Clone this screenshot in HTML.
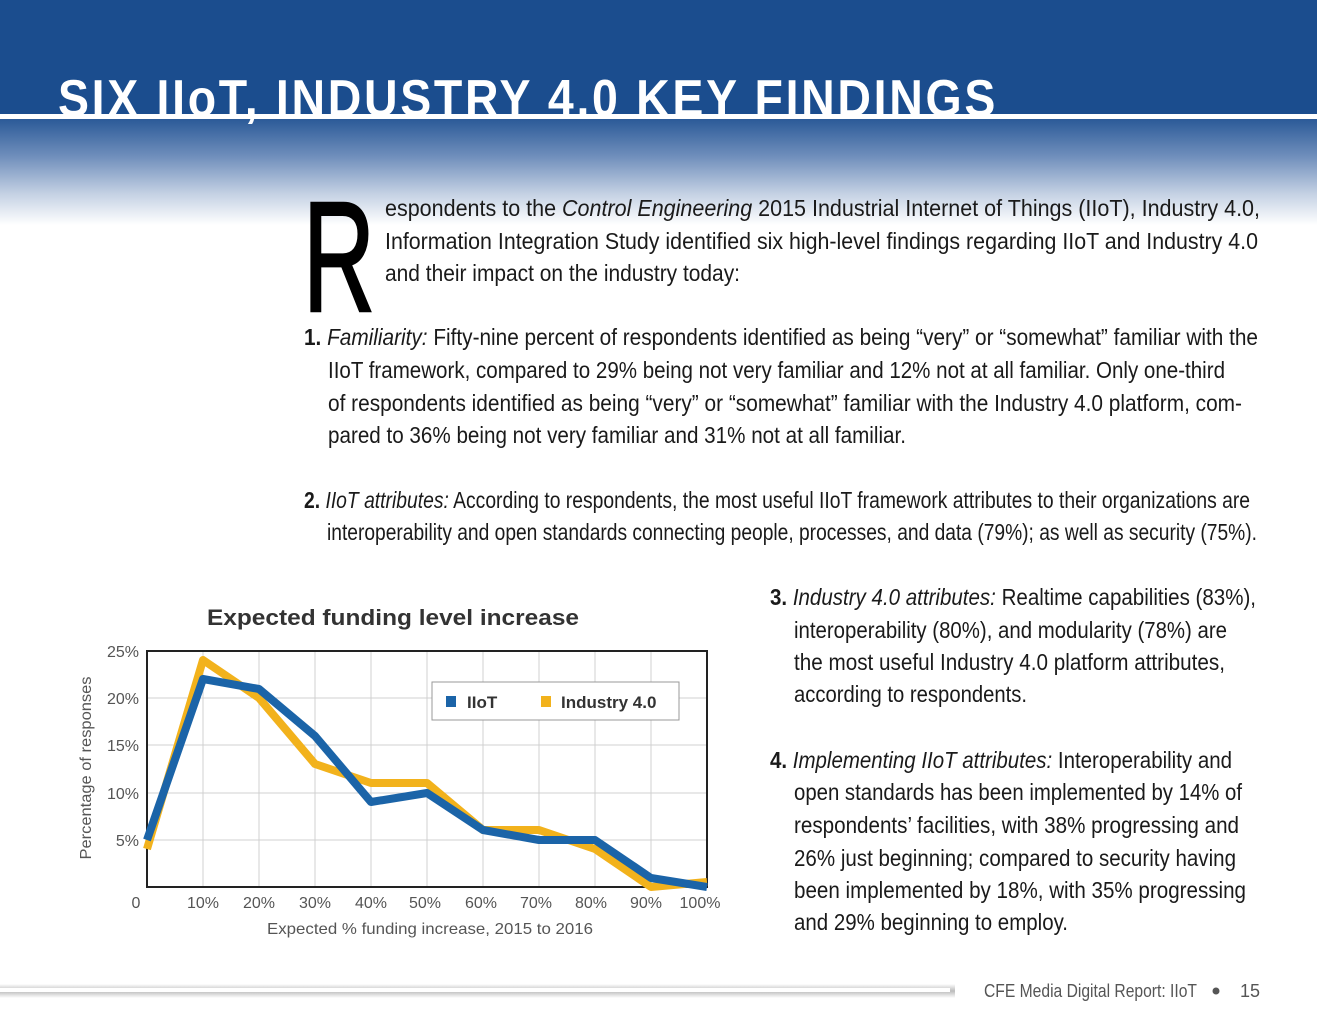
<!DOCTYPE html>
<html><head><meta charset="utf-8"><style>html,body{margin:0;padding:0;background:#fff}svg{display:block}</style></head><body>
<svg width="1317" height="1024" viewBox="0 0 1317 1024" xmlns="http://www.w3.org/2000/svg" font-family="Liberation Sans, sans-serif">
<defs>
<linearGradient id="hg" x1="0" y1="0" x2="0" y2="1">
<stop offset="0" stop-color="#2b5a98"/><stop offset="0.35" stop-color="#6f8ebb"/><stop offset="0.7" stop-color="#c3d0e3"/><stop offset="1" stop-color="#ffffff"/>
</linearGradient>
<linearGradient id="fg" x1="0" y1="0" x2="0" y2="1">
<stop offset="0" stop-color="#fff"/><stop offset="0.5" stop-color="#bbb"/><stop offset="1" stop-color="#fff"/>
</linearGradient>
</defs>
<rect x="0" y="0" width="1317" height="114" fill="#1b4d8e"/>
<rect x="0" y="114" width="1317" height="5" fill="#fff"/>
<rect x="0" y="119" width="1317" height="106" fill="url(#hg)"/>
<text x="58" y="116" font-size="52" font-weight="bold" fill="#fff" textLength="940" lengthAdjust="spacingAndGlyphs" letter-spacing="3">SIX IIoT, INDUSTRY 4.0 KEY FINDINGS</text>

<g fill="#1a1a1a" font-size="23">
<text x="303" y="311" font-size="157" textLength="72" lengthAdjust="spacingAndGlyphs" fill="#000" stroke="#000" stroke-width="2.5">R</text>
<text x="385" y="216" textLength="875" lengthAdjust="spacingAndGlyphs">espondents to the <tspan font-style="italic">Control Engineering</tspan> 2015 Industrial Internet of Things (IIoT), Industry 4.0,</text>
<text x="385" y="249" textLength="873" lengthAdjust="spacingAndGlyphs">Information Integration Study identified six high-level findings regarding IIoT and Industry 4.0</text>
<text x="385" y="281" textLength="355" lengthAdjust="spacingAndGlyphs">and their impact on the industry today:</text>

<text x="304" y="345" textLength="954" lengthAdjust="spacingAndGlyphs"><tspan font-weight="bold">1. </tspan><tspan font-style="italic">Familiarity:</tspan> Fifty-nine percent of respondents identified as being “very” or “somewhat” familiar with the</text>
<text x="328" y="378" textLength="897" lengthAdjust="spacingAndGlyphs">IIoT framework, compared to 29% being not very familiar and 12% not at all familiar. Only one-third</text>
<text x="328" y="411" textLength="914" lengthAdjust="spacingAndGlyphs">of respondents identified as being “very” or “somewhat” familiar with the Industry 4.0 platform, com-</text>
<text x="328" y="443" textLength="578" lengthAdjust="spacingAndGlyphs">pared to 36% being not very familiar and 31% not at all familiar.</text>

<text x="304" y="508" textLength="946" lengthAdjust="spacingAndGlyphs"><tspan font-weight="bold">2. </tspan><tspan font-style="italic">IIoT attributes:</tspan> According to respondents, the most useful IIoT framework attributes to their organizations are</text>
<text x="327" y="540" textLength="930" lengthAdjust="spacingAndGlyphs">interoperability and open standards connecting people, processes, and data (79%); as well as security (75%).</text>

<text x="770" y="605" textLength="486" lengthAdjust="spacingAndGlyphs"><tspan font-weight="bold">3. </tspan><tspan font-style="italic">Industry 4.0 attributes:</tspan> Realtime capabilities (83%),</text>
<text x="794" y="638" textLength="433" lengthAdjust="spacingAndGlyphs">interoperability (80%), and modularity (78%) are</text>
<text x="794" y="670" textLength="431" lengthAdjust="spacingAndGlyphs">the most useful Industry 4.0 platform attributes,</text>
<text x="794" y="702" textLength="233" lengthAdjust="spacingAndGlyphs">according to respondents.</text>

<text x="770" y="768" textLength="462" lengthAdjust="spacingAndGlyphs"><tspan font-weight="bold">4. </tspan><tspan font-style="italic">Implementing IIoT attributes:</tspan> Interoperability and</text>
<text x="794" y="800" textLength="448" lengthAdjust="spacingAndGlyphs">open standards has been implemented by 14% of</text>
<text x="794" y="833" textLength="445" lengthAdjust="spacingAndGlyphs">respondents’ facilities, with 38% progressing and</text>
<text x="794" y="866" textLength="442" lengthAdjust="spacingAndGlyphs">26% just beginning; compared to security having</text>
<text x="794" y="898" textLength="452" lengthAdjust="spacingAndGlyphs">been implemented by 18%, with 35% progressing</text>
<text x="794" y="930" textLength="274" lengthAdjust="spacingAndGlyphs">and 29% beginning to employ.</text>
</g>

<!-- chart -->
<text x="207" y="625" font-size="22" font-weight="bold" fill="#333" textLength="372" lengthAdjust="spacingAndGlyphs">Expected funding level increase</text>
<g stroke="#d0d0d0" stroke-width="1">
<line x1="203" y1="651" x2="203" y2="887"/><line x1="259" y1="651" x2="259" y2="887"/><line x1="315" y1="651" x2="315" y2="887"/><line x1="371" y1="651" x2="371" y2="887"/><line x1="427" y1="651" x2="427" y2="887"/><line x1="483" y1="651" x2="483" y2="887"/><line x1="539" y1="651" x2="539" y2="887"/><line x1="595" y1="651" x2="595" y2="887"/><line x1="651" y1="651" x2="651" y2="887"/>
<line x1="147" y1="698" x2="707" y2="698"/><line x1="147" y1="745" x2="707" y2="745"/><line x1="147" y1="793" x2="707" y2="793"/><line x1="147" y1="840" x2="707" y2="840"/>
</g>
<rect x="147" y="651" width="560" height="236" fill="none" stroke="#222" stroke-width="2"/>
<rect x="432" y="682" width="247" height="38" fill="#fff" stroke="#999" stroke-width="1"/>
<rect x="446" y="696" width="10" height="11" fill="#1b64a8"/>
<text x="467" y="708" font-size="17" font-weight="bold" fill="#333">IIoT</text>
<rect x="541" y="696" width="10" height="11" fill="#f2b21c"/>
<text x="561" y="708" font-size="17" font-weight="bold" fill="#333">Industry 4.0</text>
<polyline fill="none" stroke="#f2b21c" stroke-width="8" stroke-linejoin="round" points="147,849 203,660 259,698 315,764 371,783 427,783 483,830 539,830 595,849 651,887 707,882"/>
<polyline fill="none" stroke="#1b64a8" stroke-width="8" stroke-linejoin="round" points="147,840 203,679 259,689 315,736 371,802 427,793 483,830 539,840 595,840 651,878 707,887"/>
<g font-size="16" fill="#555" text-anchor="end">
<text x="139" y="657">25%</text><text x="139" y="704">20%</text><text x="139" y="751">15%</text><text x="139" y="799">10%</text><text x="139" y="846">5%</text>
</g>
<g font-size="16" fill="#555" text-anchor="middle">
<text x="136" y="908">0</text><text x="203" y="908">10%</text><text x="259" y="908">20%</text><text x="315" y="908">30%</text><text x="371" y="908">40%</text><text x="425" y="908">50%</text><text x="481" y="908">60%</text><text x="536" y="908">70%</text><text x="591" y="908">80%</text><text x="646" y="908">90%</text><text x="700" y="908">100%</text>
<text x="430" y="934" textLength="326" lengthAdjust="spacingAndGlyphs">Expected % funding increase, 2015 to 2016</text>
<text transform="translate(91,768) rotate(-90)" textLength="183" lengthAdjust="spacingAndGlyphs">Percentage of responses</text>
</g>

<!-- footer -->
<rect x="0" y="984" width="955" height="14" fill="url(#fg)"/>
<rect x="0" y="988" width="950" height="4" fill="#fff"/>
<text x="984" y="997" font-size="18" fill="#555" textLength="213" lengthAdjust="spacingAndGlyphs">CFE Media Digital Report: IIoT</text>
<circle cx="1216" cy="991" r="3.5" fill="#555"/>
<text x="1240" y="997" font-size="18" fill="#555">15</text>
</svg>
</body></html>
